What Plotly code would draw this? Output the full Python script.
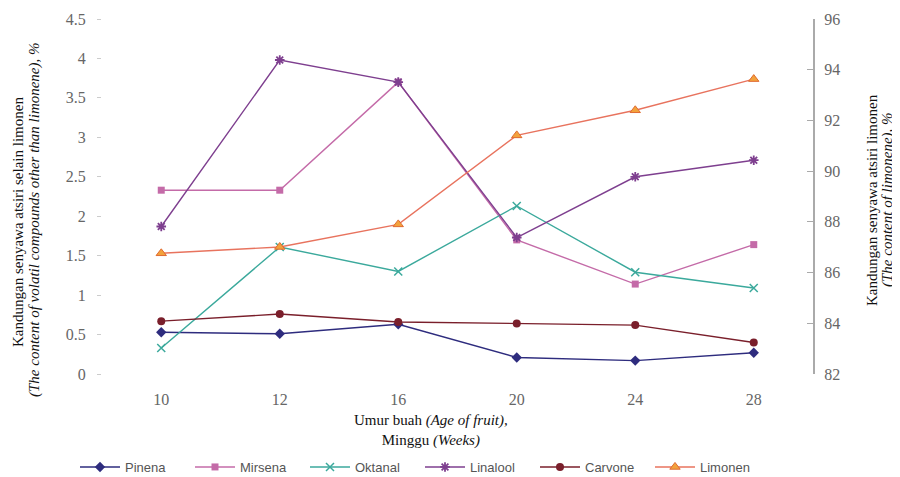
import plotly.graph_objects as go

weeks = ["10", "12", "16", "20", "24", "28"]
pinena = [0.53, 0.51, 0.63, 0.21, 0.17, 0.27]
mirsena = [2.33, 2.33, 3.70, 1.70, 1.14, 1.64]
oktanal = [0.33, 1.61, 1.30, 2.13, 1.29, 1.09]
linalool = [1.87, 3.98, 3.70, 1.73, 2.50, 2.71]
carvone = [0.67, 0.76, 0.66, 0.64, 0.62, 0.40]
limonen = [86.76, 87.01, 87.90, 91.41, 92.40, 93.63]

left_ticks = [0, 0.5, 1, 1.5, 2, 2.5, 3, 3.5, 4, 4.5]
left_ticktext = ["0", "0.5", "1", "1.5", "2", "2.5", "3", "3.5", "4", "4.5"]
right_ticks = [82, 84, 86, 88, 90, 92, 94, 96]

FONT = "Liberation Serif"
OFF = 8  # page body margin offset
W, H = 900, 477
L, R, T, B = 102 - OFF, W - 813 + OFF, 19 - OFF, H - 374 + OFF
PW, PH = W - L - R, H - T - B
fig = go.Figure()


def px_x(x):
    # screen x -> paper coordinate
    return (x - OFF - L) / PW


def px_y(y):
    return (H - B - (y - OFF)) / PH


def add(name, y, color, symbol, size=7, yaxis="y", mcolor=None, mline=None):
    marker = dict(symbol=symbol, size=size, color=mcolor or color)
    if mline:
        marker["line"] = mline
    fig.add_trace(go.Scatter(x=weeks, y=y, name=name, mode="lines+markers",
                             line=dict(color=color, width=1.4), marker=marker, yaxis=yaxis))


add("Pinena", pinena, "#2E2C7E", "diamond", 8)
add("Mirsena", mirsena, "#C46BA8", "square", 7)
add("Oktanal", oktanal, "#3BA99C", "x-thin", 8, mline=dict(color="#3BA99C", width=1.5))
add("Linalool", linalool, "#7E3F8F", "asterisk", 8, mline=dict(color="#7E3F8F", width=1.8))
add("Carvone", carvone, "#7A1F2B", "circle", 8)
add("Limonen", limonen, "#E8735E", "triangle-up", 9, yaxis="y2",
    mcolor="#F2A23C", mline=dict(color="#E06A30", width=1))

tick_font = dict(family=FONT, size=16, color="#666")
fig.update_layout(
    width=W, height=H,
    margin=dict(l=L, r=R, t=T, b=B, autoexpand=False),
    paper_bgcolor="white", plot_bgcolor="white",
    font=dict(family=FONT, size=14, color="#555"),
    showlegend=True,
    legend=dict(orientation="h", x=px_x(75), xanchor="left", y=px_y(467), yanchor="middle",
                font=dict(family="Liberation Sans", size=13, color="#555"),
                itemwidth=40, entrywidth=60, entrywidthmode="pixels"),
    xaxis=dict(type="category", range=[-0.5, 5.5], showline=False, showgrid=False,
               zeroline=False, ticks="", tickfont=tick_font, ticklabelstandoff=14),
    yaxis=dict(range=[0, 4.5], tickvals=left_ticks, ticktext=left_ticktext,
               showgrid=False, zeroline=False, showline=False,
               ticks="outside", ticklen=4, tickcolor="#ccc", tickfont=tick_font,
               ticklabelstandoff=8),
    yaxis2=dict(range=[82, 96], tickvals=right_ticks, overlaying="y", side="right",
                showgrid=False, zeroline=False, showline=True, linecolor="#aaa", linewidth=2,
                ticks="inside", ticklen=6, tickcolor="#aaa", tickfont=tick_font,
                ticklabelstandoff=6),
)

ann_font = dict(family=FONT, size=15, color="#111")
fig.add_annotation(text="Umur buah <i>(Age of fruit),</i><br>Minggu <i>(Weeks)</i>",
                   xref="paper", yref="paper", x=px_x(431), y=px_y(410), xanchor="center", yanchor="top",
                   showarrow=False, font=ann_font)
for text, x, y in [
    ("Kandungan senyawa atsiri selain limonen", 18, 222),
    ("<i>(The content of volatil compounds other than limonene), %</i>", 34, 220),
    ("Kandungan senyawa atsiri limonen", 872, 200),
    ("<i>(The content of limonene), %</i>", 887, 200),
]:
    fig.add_annotation(text=text, xref="paper", yref="paper", x=px_x(x), y=px_y(y),
                       xanchor="center", yanchor="middle", textangle=-90, showarrow=False,
                       font=ann_font)

fig.write_html("out.html")
